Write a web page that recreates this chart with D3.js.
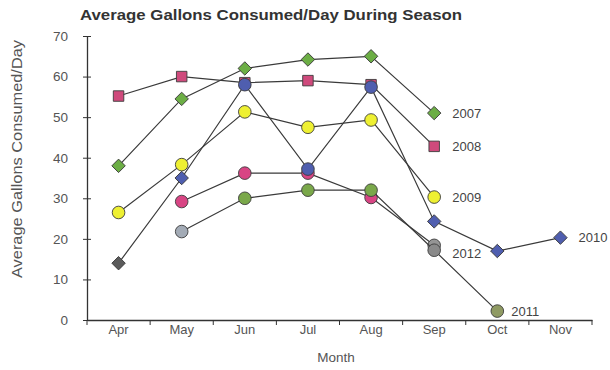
<!DOCTYPE html>
<html>
<head>
<meta charset="utf-8">
<script src="https://cdn.jsdelivr.net/npm/d3@7"></script>
<style>
  html, body { margin: 0; padding: 0; background: #ffffff; }
  svg { display: block; font-family: "Liberation Sans", Arial, sans-serif; }
</style>
</head>
<body>
<svg id="chart" width="610" height="370"></svg>
<script>
// Months on the horizontal axis
const months = ["Apr", "May", "Jun", "Jul", "Aug", "Sep", "Oct", "Nov"];
const yTicks = [0, 10, 20, 30, 40, 50, 60, 70];

// Average gallons per day, one array per season (null = no reading)
const s2007 = [38, 54.5, 62, 64.2, 65, 51, null, null];
const s2008 = [55.2, 60, 58.5, 59, 58, 42.8, null, null];
const s2009 = [26.5, 38.3, 51.3, 47.5, 49.3, 30.3, null, null];
const s2010 = [14, 35, 58, 37.2, 57.4, 24.3, 17, 20.3];
const s2011 = [null, 21.8, 30, 32, 32, 17.2, 2.2, null];
const s2012 = [null, 29.2, 36.2, 36.2, 30.2, 18.4, null, null];

const seriesNames = ["2012", "2011", "2008", "2007", "2009", "2010"];
const seriesValues = [s2012, s2011, s2008, s2007, s2009, s2010];

// Marker styling per series
const styles = {
  "2007": { shape: "diamond", fill: "#6cae45", labelDx: 18, labelDy: 0 },
  "2008": { shape: "square",  fill: "#cf4a7c", labelDx: 18, labelDy: 0 },
  "2009": { shape: "circle",  fill: "#eef032", labelDx: 18, labelDy: 0 },
  "2010": { shape: "diamond", fill: "#4f5eaf", labelDx: 18, labelDy: 0,
            shapes: { 2: "circle", 3: "circle", 4: "circle" },
            fills: { 0: "#5b5b5b" } },
  "2011": { shape: "circle",  fill: "#7aa84a", labelDx: 14, labelDy: 0,
            fills: { 1: "#a3abb6", 5: "#8a8a8a", 6: "#8f9a63" } },
  "2012": { shape: "circle",  fill: "#d84584", labelDx: 18, labelDy: 8,
            fills: { 5: "#959595" } }
};

const svg = d3.select("#chart");

const x = d3.scaleBand().domain(months).range([87, 592]);
const y = d3.scaleLinear().domain([0, 70]).range([320, 36]);

// Title
svg.append("text")
  .attr("x", 80).attr("y", 20)
  .attr("font-size", 15).attr("font-weight", "bold")
  .attr("fill", "#333")
  .attr("textLength", 382).attr("lengthAdjust", "spacingAndGlyphs")
  .text("Average Gallons Consumed/Day During Season");

// Y axis
const yAxis = svg.append("g")
  .attr("transform", `translate(${x.range()[0]},0)`)
  .call(d3.axisLeft(y).tickValues(yTicks).tickSize(5).tickSizeOuter(0).tickPadding(14));
yAxis.select(".domain").attr("stroke", "#333").attr("stroke-width", 1.3);
yAxis.selectAll(".tick line").attr("stroke", "#333").attr("x2", 4).attr("x1", -4);
yAxis.selectAll(".tick text")
  .attr("font-size", 13.5).attr("fill", "#555")
  .attr("font-family", "\"Liberation Sans\", Arial, sans-serif");

// X axis: labels at month centres, ticks at band edges
const xAxis = svg.append("g")
  .attr("transform", `translate(0,${y(0)})`)
  .call(d3.axisBottom(x).tickSize(0).tickPadding(5));
xAxis.select(".domain").attr("stroke", "#333").attr("stroke-width", 1.5);
xAxis.selectAll(".tick text")
  .attr("font-size", 13).attr("fill", "#555")
  .attr("font-family", "\"Liberation Sans\", Arial, sans-serif");
const edges = months.map(m => x(m)).concat([x.range()[1]]);
xAxis.selectAll("line.edge").data(edges).enter().append("line")
  .attr("class", "edge")
  .attr("x1", d => d).attr("x2", d => d)
  .attr("y1", 0).attr("y2", 5)
  .attr("stroke", "#333").attr("stroke-width", 1);

// Axis titles
svg.append("text")
  .attr("x", 336).attr("y", 362)
  .attr("text-anchor", "middle")
  .attr("font-size", 13.5).attr("fill", "#555")
  .text("Month");
svg.append("text")
  .attr("transform", "translate(22,159) rotate(-90)")
  .attr("text-anchor", "middle")
  .attr("font-size", 15).attr("fill", "#555")
  .attr("textLength", 238).attr("lengthAdjust", "spacingAndGlyphs")
  .text("Average Gallons Consumed/Day");

const cx = i => x(months[i]) + x.bandwidth() / 2;

const line = d3.line()
  .defined(d => d.v !== null)
  .x(d => cx(d.i))
  .y(d => y(d.v));

const symbolFor = shape => {
  if (shape === "diamond") return d3.symbol().type(d3.symbolSquare).size(90);
  if (shape === "square") return d3.symbol().type(d3.symbolSquare).size(110);
  return d3.symbol().type(d3.symbolCircle).size(125);
};

seriesNames.forEach((name, k) => {
  const st = styles[name];
  const pts = seriesValues[k].map((v, i) => ({ v, i }));
  const g = svg.append("g").attr("class", "series s" + name);

  g.append("path")
    .datum(pts)
    .attr("d", line)
    .attr("fill", "none")
    .attr("stroke", "#3a3a3a")
    .attr("stroke-width", 1.2);

  g.selectAll("path.marker")
    .data(pts.filter(d => d.v !== null))
    .enter().append("path")
    .attr("class", "marker")
    .attr("d", d => {
      const shape = (st.shapes && st.shapes[d.i]) || st.shape;
      return symbolFor(shape)();
    })
    .attr("transform", d => {
      const shape = (st.shapes && st.shapes[d.i]) || st.shape;
      return `translate(${cx(d.i)},${y(d.v)})` + (shape === "diamond" ? " rotate(45)" : "");
    })
    .attr("fill", d => (st.fills && st.fills[d.i]) || st.fill)
    .attr("stroke", "#3c3c3c")
    .attr("stroke-width", 0.9);

  // Year label beside the last reading
  let last = null;
  pts.forEach(d => { if (d.v !== null) last = d; });
  g.append("text")
    .attr("x", cx(last.i) + st.labelDx)
    .attr("y", y(last.v) + st.labelDy)
    .attr("dy", "0.35em")
    .attr("font-size", 13).attr("fill", "#444")
    .text(name);
});
</script>
</body>
</html>
